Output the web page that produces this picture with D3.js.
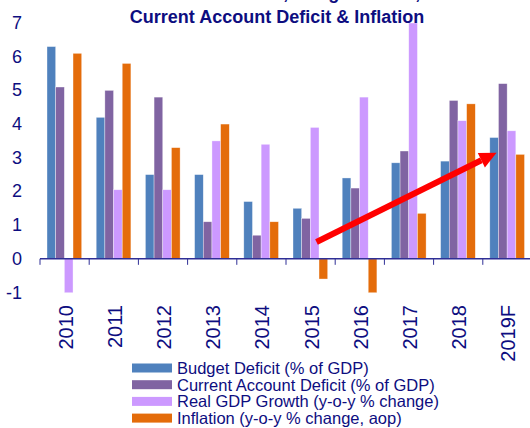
<!DOCTYPE html>
<html>
<head>
<meta charset="utf-8">
<script src="https://cdn.jsdelivr.net/npm/d3@7"></script>
<style>
	body { margin: 0; background: #fff; }
	svg { display: block; font-family: "Liberation Sans", Arial, sans-serif; }
</style>
</head>
<body>
<svg id="chart" width="530" height="428"></svg>
<script>
// chart data
const years = ["2010", "2011", "2012", "2013", "2014", "2015", "2016", "2017", "2018", "2019F"];
const budgetDeficit = [6.3, 4.2, 2.5, 2.5, 1.7, 1.5, 2.4, 2.85, 2.9, 3.6];
const currentAccount = [5.1, 5.0, 4.8, 1.1, 0.7, 1.2, 2.1, 3.2, 4.7, 5.2];
const gdpGrowth = [-1.1, 2.05, 2.05, 3.5, 3.4, 3.9, 4.8, 7.0, 4.1, 3.8];
const inflation = [6.1, 5.8, 3.3, 4.0, 1.1, -0.6, -1.6, 1.35, 4.6, 3.1];
const seriesNames = ["Budget Deficit (% of GDP)", "Current Account Deficit (% of GDP)",
	"Real GDP Growth (y-o-y % change)", "Inflation (y-o-y % change, aop)"];
const yTicks = [-1, 0, 1, 2, 3, 4, 5, 6, 7];
// trend arrow, in data terms (year, position inside band, value)
const arrowFrom = {year: "2015", frac: 0.62, value: 0.5};
const arrowTo = {year: "2019F", frac: 0.28, value: 3.15};

const colors = ["#4f81bd", "#8064a2", "#cc99ff", "#e46c0a"];
const navy = "#0d0d80";

const svg = d3.select("#chart");

const x = d3.scaleBand().domain(years).range([40, 532]).padding(0);
const y = d3.scaleLinear().domain([-1, 7]).range([292.5, 23]);
const inner = d3.scaleBand().domain(d3.range(4)).range([7, x.bandwidth() - 7.5]).padding(0);

svg.append("defs").append("clipPath").attr("id", "plot")
	.append("rect").attr("x", 40).attr("y", y(7)).attr("width", 492).attr("height", y(-1) - y(7));

// title (first line sits above the window, only its descenders show)
svg.append("text")
	.attr("x", 277).attr("y", -1.5)
	.attr("text-anchor", "middle")
	.style("font-size", "18px").style("font-weight", "bold").style("fill", navy)
	.text("Real GDP Growth, Budget Deficit,");
svg.append("text")
	.attr("x", 277).attr("y", 23)
	.attr("text-anchor", "middle")
	.style("font-size", "18px").style("font-weight", "bold").style("fill", navy)
	.text("Current Account Deficit & Inflation");

// y labels
svg.append("g").selectAll("text")
	.data(yTicks)
	.join("text")
	.attr("x", 22).attr("y", d => y(d))
	.attr("text-anchor", "end")
	.attr("dominant-baseline", "central")
	.style("font-size", "18px").style("fill", navy)
	.text(d => d);

// bars
const table = years.map((yr, i) => ({year: yr, values: [budgetDeficit[i], currentAccount[i], gdpGrowth[i], inflation[i]]}));

const groups = svg.append("g").attr("clip-path", "url(#plot)")
	.selectAll("g")
	.data(table)
	.join("g")
	.attr("transform", d => `translate(${x(d.year)},0)`);

groups.selectAll("rect")
	.data(d => d.values)
	.join("rect")
	.attr("x", (d, i) => inner(i))
	.attr("width", inner.bandwidth())
	.attr("y", d => y(Math.max(0, d)))
	.attr("height", d => Math.abs(y(d) - y(0)))
	.style("fill", (d, i) => colors[i])
	.style("stroke", "#ffffff")
	.style("stroke-opacity", 0.6)
	.style("stroke-width", 0.6);

// x axis line and ticks
const axis = svg.append("g").style("stroke", "#2f2f96").style("stroke-width", 1.5);
axis.append("line")
	.attr("x1", 40).attr("x2", 530).attr("y1", y(0)).attr("y2", y(0));
axis.selectAll(".tick")
	.data(years.concat(["end"]))
	.join("line")
	.attr("class", "tick")
	.attr("x1", d => d === "end" ? 532 : x(d))
	.attr("x2", d => d === "end" ? 532 : x(d))
	.attr("y1", y(0)).attr("y2", y(0) + 6)
	.style("stroke-width", 1);

// x labels
svg.append("g").selectAll("text")
	.data(years)
	.join("text")
	.attr("transform", d => `translate(${x(d) + x.bandwidth() / 2 + 1},305) rotate(-90)`)
	.attr("text-anchor", "end")
	.attr("dominant-baseline", "central")
	.style("font-size", "20px").style("fill", navy)
	.text(d => d);

// red trend arrow
const ax1 = x(arrowFrom.year) + arrowFrom.frac * x.bandwidth(), ay1 = y(arrowFrom.value);
const ax2 = x(arrowTo.year) + arrowTo.frac * x.bandwidth(), ay2 = y(arrowTo.value);
const ang = Math.atan2(ay2 - ay1, ax2 - ax1);
const headLen = 17, headW = 8;
const bx = ax2 - headLen * Math.cos(ang), by = ay2 - headLen * Math.sin(ang);
svg.append("line")
	.attr("x1", ax1).attr("y1", ay1).attr("x2", bx).attr("y2", by)
	.style("stroke", "#ff0000").style("stroke-width", 6);
svg.append("polygon")
	.attr("points", [
		[ax2, ay2],
		[bx + headW * Math.sin(ang), by - headW * Math.cos(ang)],
		[bx - headW * Math.sin(ang), by + headW * Math.cos(ang)]
	].map(p => p.join(",")).join(" "))
	.style("fill", "#ff0000");

// legend
const legend = svg.append("g").selectAll("g")
	.data(seriesNames)
	.join("g")
	.attr("transform", (d, i) => `translate(132,${368 + i * 16.7})`);
legend.append("rect")
	.attr("x", 0).attr("y", -4.5).attr("width", 40).attr("height", 9)
	.style("fill", (d, i) => colors[i]);
legend.append("text")
	.attr("x", 45).attr("y", 0)
	.attr("dominant-baseline", "central")
	.style("font-size", "16.5px").style("fill", navy)
	.text(d => d);
</script>
</body>
</html>
